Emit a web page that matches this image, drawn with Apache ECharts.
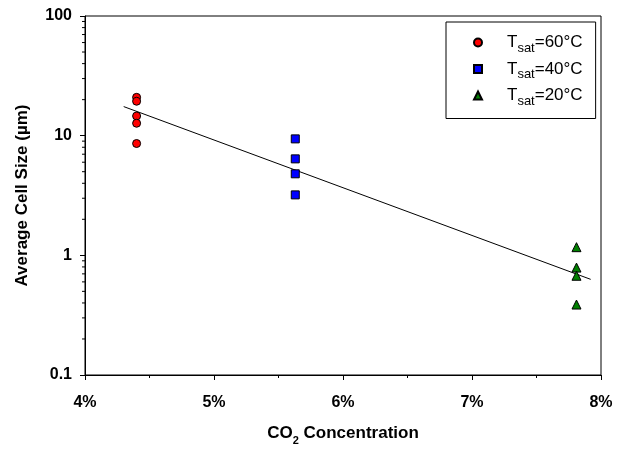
<!DOCTYPE html>
<html>
<head>
<meta charset="utf-8">
<script src="https://cdn.jsdelivr.net/npm/echarts@6/dist/echarts.min.js"></script>
<style>
  html, body { margin: 0; padding: 0; background: #fff; }
  #chart { width: 618px; height: 451px; }
</style>
</head>
<body>
<div id="chart"></div>
<script>
// CO2 concentration (%) for each saturation temperature
const co2At60 = [4.40, 4.40, 4.40, 4.40, 4.40];
const co2At40 = [5.63, 5.63, 5.63, 5.63];
const co2At20 = [7.81, 7.81, 7.81, 7.81];

// Average cell size (µm)
const cellAt60 = [20.9, 19.4, 14.6, 12.7, 8.6];
const cellAt40 = [9.4, 6.4, 4.8, 3.2];
const cellAt20 = [1.17, 0.79, 0.675, 0.388];

// Fitted trend line end points: [CO2 %, cell size µm]
const trendX = [4.30, 7.92];
const trendY = [17.5, 0.63];

// Saturation temperatures shown in the legend
const tempLabels = ['60°C', '40°C', '20°C'];

// Axis ticks
const xTicks = [4, 5, 6, 7, 8];
const yMinorTicks = [0.2, 0.3, 0.4, 0.5, 0.6, 0.7, 0.8, 0.9,
                     2, 3, 4, 5, 6, 7, 8, 9,
                     20, 30, 40, 50, 60, 70, 80, 90];

const FONT = '"Liberation Sans", Arial, sans-serif';
const seriesNames = tempLabels.map(t => 'Tsat=' + t);

function pairs(xs, ys) { return xs.map((x, i) => [x, ys[i]]); }

const chart = echarts.init(document.getElementById('chart'), null, { renderer: 'canvas' });

const markerStyles = [
  { symbol: 'circle', symbolSize: 8, color: '#ff0000' },
  { symbol: 'rect', symbolSize: 8, color: '#0000ff' },
  { symbol: 'triangle', symbolSize: 9, color: '#008000' }
];
const pointSets = [pairs(co2At60, cellAt60), pairs(co2At40, cellAt40), pairs(co2At20, cellAt20)];

const scatterSeries = pointSets.map((d, i) => ({
  name: seriesNames[i],
  type: 'scatter',
  data: d,
  symbol: markerStyles[i].symbol,
  symbolSize: markerStyles[i].symbolSize,
  itemStyle: { color: markerStyles[i].color, borderColor: '#000', borderWidth: 1, opacity: 1 },
  emphasis: { disabled: true },
  z: 5
}));

chart.setOption({
  animation: false,
  backgroundColor: '#fff',
  grid: {
    left: 85, right: 17, top: 16, bottom: 73,
    show: true, borderColor: '#000', borderWidth: 1, backgroundColor: 'transparent'
  },
  legend: {
    data: seriesNames.map((n, i) => ({ name: n, icon: markerStyles[i].symbol })),
    orient: 'vertical',
    left: 446, top: 22,
    padding: [12, 13, 11, 27],
    itemGap: 6,
    itemWidth: 8, itemHeight: 8,
    backgroundColor: '#fff',
    borderColor: '#000', borderWidth: 1, borderRadius: 0,
    selectedMode: false,
    formatter: name => '{a|T}{s|sat}{a|' + name.slice(4) + '}',
    textStyle: {
      color: '#000', fontFamily: FONT, fontSize: 17,
      padding: [0, 0, 0, 20],
      rich: {
        a: { fontFamily: FONT, fontSize: 17, color: '#000', lineHeight: 20, verticalAlign: 'middle' },
        s: { fontFamily: FONT, fontSize: 13, color: '#000', lineHeight: 12, verticalAlign: 'bottom', padding: [0, 0, -2, 0] }
      }
    }
  },
  xAxis: {
    type: 'value',
    min: xTicks[0], max: xTicks[xTicks.length - 1], interval: 1,
    name: '{a|CO}{s|2}{a| Concentration}',
    nameLocation: 'middle',
    nameGap: 48,
    nameTextStyle: {
      rich: {
        a: { fontFamily: FONT, fontSize: 17, fontWeight: 'bold', color: '#000', lineHeight: 20, verticalAlign: 'middle' },
        s: { fontFamily: FONT, fontSize: 11, fontWeight: 'bold', color: '#000', lineHeight: 12, verticalAlign: 'bottom', padding: [0, 0, -3, 0] }
      }
    },
    axisLine: { lineStyle: { color: '#000', width: 1 } },
    axisTick: { show: true, inside: false, length: 5, lineStyle: { color: '#000' } },
    minorTick: { show: true, splitNumber: 2, length: 3, lineStyle: { color: '#000' } },
    splitLine: { show: false },
    axisLabel: {
      formatter: '{value}%', margin: 20,
      fontFamily: FONT, fontSize: 16, fontWeight: 'bold', color: '#000'
    }
  },
  yAxis: {
    type: 'log', logBase: 10, min: 0.1, max: 100,
    name: 'Average Cell Size (µm)',
    nameLocation: 'middle',
    nameGap: 54,
    nameTextStyle: { fontFamily: FONT, fontSize: 17, fontWeight: 'bold', color: '#000' },
    axisLine: { show: true, lineStyle: { color: '#000', width: 1 } },
    axisTick: { show: true, inside: false, length: 5, lineStyle: { color: '#000' } },
    minorTick: { show: false },
    splitLine: { show: false },
    axisLabel: {
      margin: 13,
      formatter: v => String(+v.toPrecision(3)),
      fontFamily: FONT, fontSize: 16, fontWeight: 'bold', color: '#000'
    }
  },
  series: [
    ...scatterSeries,
    {
      name: 'trend',
      type: 'line',
      data: pairs(trendX, trendY),
      symbol: 'none',
      lineStyle: { color: '#000', width: 1 },
      emphasis: { disabled: true },
      z: 3
    },
    {
      // minor ticks on the logarithmic axis at 2..9 within each decade
      name: 'yMinor',
      type: 'custom',
      silent: true,
      clip: false,
      data: yMinorTicks.map(v => [xTicks[0], v]),
      renderItem: (params, api) => {
        const p = api.coord([api.value(0), api.value(1)]);
        return {
          type: 'line',
          shape: { x1: p[0] - 3, y1: p[1], x2: p[0], y2: p[1] },
          style: { stroke: '#000', lineWidth: 1 }
        };
      },
      z: 4
    }
  ]
});
</script>
</body>
</html>
